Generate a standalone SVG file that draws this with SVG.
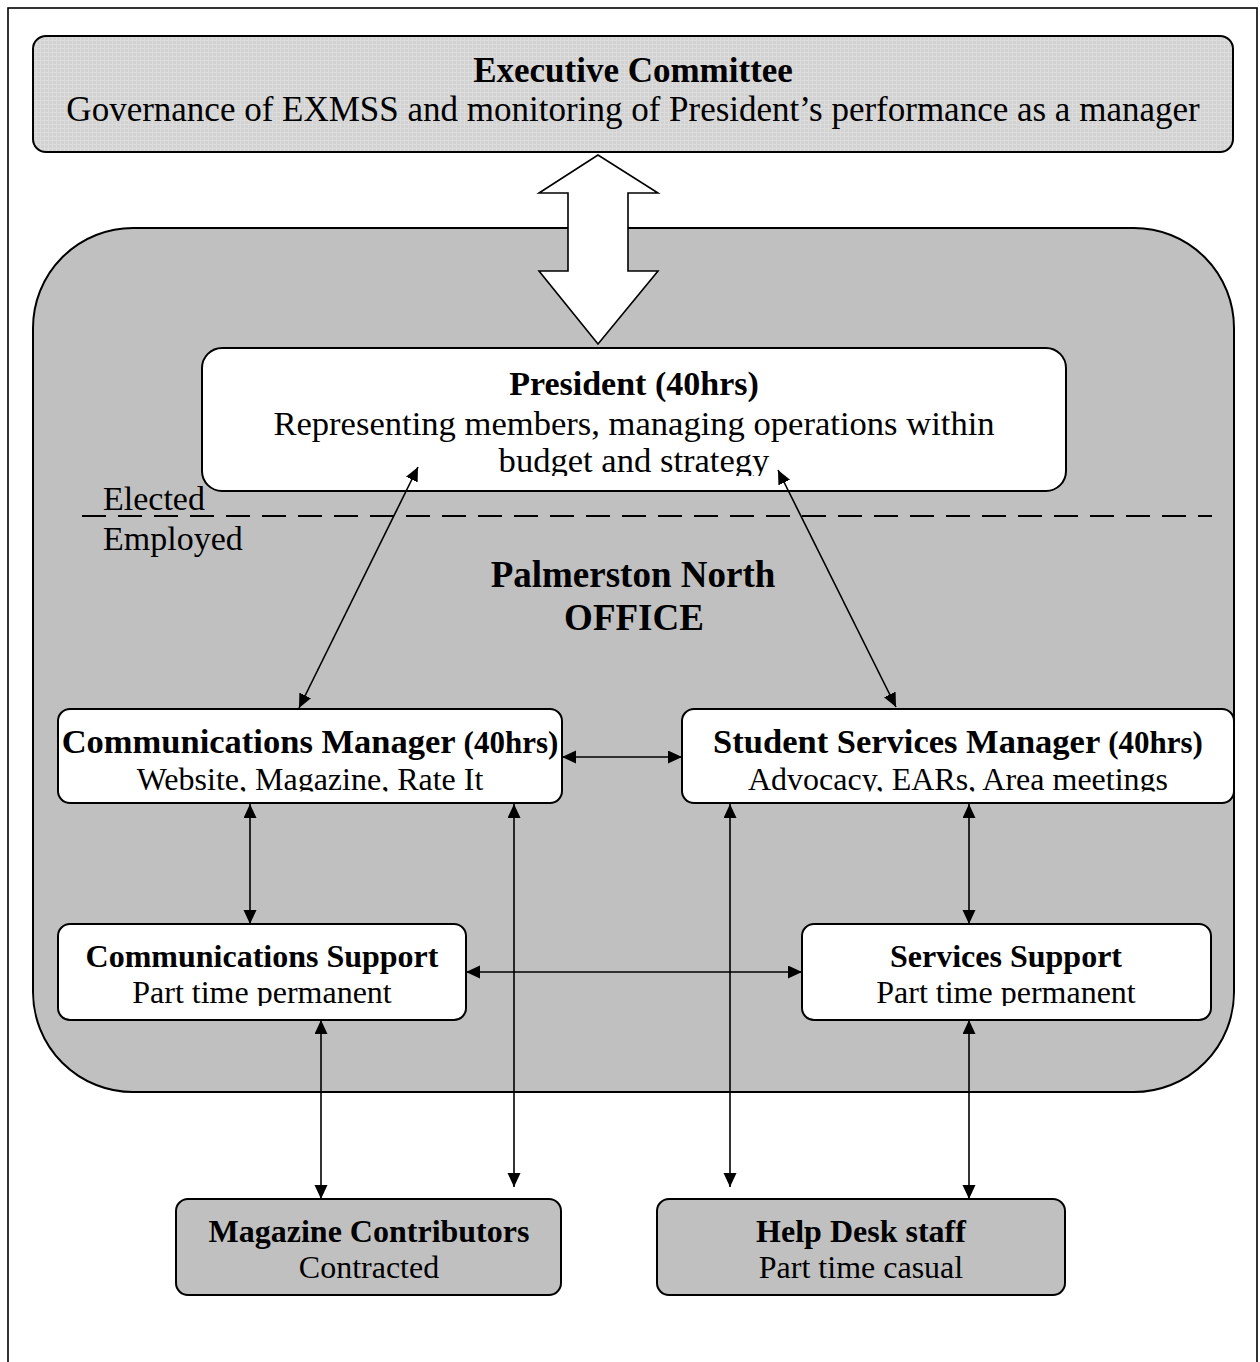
<svg xmlns="http://www.w3.org/2000/svg" width="1260" height="1362" viewBox="0 0 1260 1362">
<style>
text{font-family:"Liberation Serif","Times New Roman",serif;fill:#000;text-anchor:middle}
.b{font-weight:bold}
.box{stroke:#000;stroke-width:2}
.con{stroke:#000;stroke-width:1.6;fill:none;marker-start:url(#ah);marker-end:url(#ah)}
</style>
<defs>
<pattern id="dots" width="4" height="4" patternUnits="userSpaceOnUse">
<rect width="4" height="4" fill="#d2d2d2"/>
<rect x="0" y="0" width="1" height="4" fill="#dcdcdc"/>
<rect x="0" y="0" width="4" height="1" fill="#dcdcdc"/>
</pattern>
<marker id="ah" markerUnits="userSpaceOnUse" markerWidth="15" markerHeight="14" refX="14" refY="6.5" orient="auto-start-reverse">
<path d="M0,0 L14,6.5 L0,13 z" fill="#000"/>
</marker>
<clipPath id="cPres"><rect x="202" y="348" width="864" height="128"/></clipPath>
<clipPath id="cCM"><rect x="58" y="709" width="504" height="82.5"/></clipPath>
<clipPath id="cSSM"><rect x="682" y="709" width="552" height="82.5"/></clipPath>
<clipPath id="cCS"><rect x="58" y="924" width="408" height="82"/></clipPath>
<clipPath id="cSS"><rect x="802" y="924" width="409" height="82"/></clipPath>
</defs>
<rect x="0" y="0" width="1260" height="1362" fill="#fff"/>
<rect x="8" y="8" width="1249" height="1380" fill="none" stroke="#000" stroke-width="1.6"/>

<g id="office-area">
<rect x="33" y="228" width="1201" height="864" rx="100" ry="100" fill="#c0c0c0" class="box"/>
</g>

<g id="executive-committee">
<rect x="33" y="36" width="1200" height="116" rx="13" ry="13" fill="url(#dots)" class="box"/>
<text x="633" y="82" class="b" font-size="35">Executive Committee</text>
<text x="633" y="121" font-size="35">Governance of EXMSS and monitoring of President’s performance as a manager</text>
</g>

<g id="block-arrow">
<polygon points="598,155 539,193 568,193 568,271 539,271 598,344 658,271 628,271 628,193 658,193" fill="#fff" stroke="#000" stroke-width="1.6" stroke-linejoin="miter"/>
</g>

<g id="president">
<rect x="202" y="348" width="864" height="143" rx="20" ry="20" fill="#fff" class="box"/>
<g clip-path="url(#cPres)">
<text x="634" y="395" class="b" font-size="34">President (40hrs)</text>
<text x="634" y="435" font-size="34.6">Representing members, managing operations within</text>
<text x="634" y="472" font-size="34.6">budget and strategy</text>
</g>
</g>

<g id="elected-employed">
<line x1="82" y1="516" x2="1212" y2="516" stroke="#000" stroke-width="2" stroke-dasharray="24,12"/>
<text x="103" y="510" font-size="34" style="text-anchor:start">Elected</text>
<text x="103" y="550" font-size="34" style="text-anchor:start">Employed</text>
</g>

<g id="office-label">
<text x="633" y="587" class="b" font-size="37">Palmerston North</text>
<text x="634" y="630" class="b" font-size="37">OFFICE</text>
</g>

<g id="communications-manager">
<rect x="58" y="709" width="504" height="94" rx="12" ry="12" fill="#fff" class="box"/>
<g clip-path="url(#cCM)">
<text x="310" y="753" class="b" font-size="34.5">Communications Manager <tspan font-size="31">(40hrs)</tspan></text>
<text x="310" y="790" font-size="32">Website, Magazine, Rate It</text>
</g>
</g>

<g id="student-services-manager">
<rect x="682" y="709" width="552" height="94" rx="12" ry="12" fill="#fff" class="box"/>
<g clip-path="url(#cSSM)">
<text x="958" y="753" class="b" font-size="34.5">Student Services Manager <tspan font-size="31">(40hrs)</tspan></text>
<text x="958" y="790" font-size="32">Advocacy, EARs, Area meetings</text>
</g>
</g>

<g id="communications-support">
<rect x="58" y="924" width="408" height="96" rx="12" ry="12" fill="#fff" class="box"/>
<g clip-path="url(#cCS)">
<text x="262" y="967" class="b" font-size="32">Communications Support</text>
<text x="262" y="1003" font-size="32">Part time permanent</text>
</g>
</g>

<g id="services-support">
<rect x="802" y="924" width="409" height="96" rx="12" ry="12" fill="#fff" class="box"/>
<g clip-path="url(#cSS)">
<text x="1006" y="967" class="b" font-size="32">Services Support</text>
<text x="1006" y="1003" font-size="32">Part time permanent</text>
</g>
</g>

<g id="magazine-contributors">
<rect x="176" y="1199" width="385" height="96" rx="12" ry="12" fill="#c0c0c0" class="box"/>
<text x="369" y="1242" class="b" font-size="32">Magazine Contributors</text>
<text x="369" y="1278" font-size="32">Contracted</text>
</g>

<g id="help-desk-staff">
<rect x="657" y="1199" width="408" height="96" rx="12" ry="12" fill="#c0c0c0" class="box"/>
<text x="861" y="1242" class="b" font-size="32">Help Desk staff</text>
<text x="861" y="1278" font-size="32">Part time casual</text>
</g>

<g id="connectors">
<line class="con" x1="418" y1="467" x2="299" y2="708"/>
<line class="con" x1="778" y1="470" x2="896" y2="707"/>
<line class="con" x1="562" y1="757" x2="682" y2="757"/>
<line class="con" x1="250" y1="804" x2="250" y2="924"/>
<line class="con" x1="466" y1="972" x2="802" y2="972"/>
<line class="con" x1="514" y1="804" x2="514" y2="1187"/>
<line class="con" x1="730" y1="804" x2="730" y2="1187"/>
<line class="con" x1="969" y1="804" x2="969" y2="924"/>
<line class="con" x1="321" y1="1020" x2="321" y2="1199"/>
<line class="con" x1="969" y1="1020" x2="969" y2="1199"/>
</g>
</svg>
